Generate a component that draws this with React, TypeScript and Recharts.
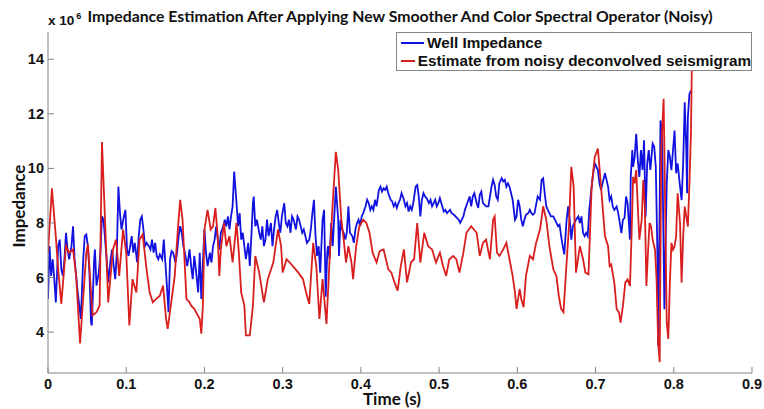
import React from 'react';
import { LineChart, Line, XAxis, YAxis } from 'recharts';

// Well impedance (x 10^6)
const wellTime = [
  0.000, 0.002, 0.004, 0.006, 0.008, 0.010, 0.013, 0.015, 0.017, 0.019, 0.021, 0.023, 0.025, 0.027, 0.030, 0.032,
  0.034, 0.036, 0.038, 0.040, 0.042, 0.045, 0.047, 0.049, 0.051, 0.053, 0.055, 0.056, 0.059, 0.060, 0.062, 0.065,
  0.067, 0.069, 0.071, 0.073, 0.075, 0.077, 0.080, 0.082, 0.084, 0.086, 0.088, 0.090, 0.092, 0.094, 0.097, 0.099,
  0.101, 0.103, 0.105, 0.107, 0.109, 0.111, 0.114, 0.116, 0.118, 0.120, 0.122, 0.124, 0.126, 0.129, 0.131, 0.133,
  0.135, 0.137, 0.139, 0.141, 0.143, 0.146, 0.148, 0.150, 0.152, 0.154, 0.156, 0.158, 0.160, 0.163, 0.165, 0.167,
  0.169, 0.171, 0.173, 0.175, 0.178, 0.181, 0.183, 0.185, 0.187, 0.189, 0.192, 0.194, 0.196, 0.198, 0.200, 0.202,
  0.204, 0.207, 0.209, 0.211, 0.213, 0.215, 0.217, 0.219, 0.221, 0.224, 0.226, 0.228, 0.230, 0.232, 0.234, 0.236,
  0.238, 0.241, 0.243, 0.245, 0.247, 0.249, 0.251, 0.253, 0.256, 0.258, 0.260, 0.262, 0.263, 0.265, 0.267, 0.270,
  0.272, 0.274, 0.276, 0.278, 0.280, 0.282, 0.285, 0.287, 0.289, 0.291, 0.293, 0.295, 0.297, 0.299, 0.302, 0.304,
  0.306, 0.308, 0.310, 0.312, 0.314, 0.317, 0.319, 0.321, 0.323, 0.325, 0.327, 0.329, 0.331, 0.334, 0.336, 0.338,
  0.340, 0.342, 0.344, 0.346, 0.348, 0.351, 0.353, 0.355, 0.357, 0.358, 0.360, 0.362, 0.364, 0.366, 0.368, 0.371,
  0.372, 0.374, 0.376, 0.378, 0.380, 0.382, 0.384, 0.386, 0.389, 0.391, 0.393, 0.395, 0.397, 0.399, 0.401, 0.403,
  0.406, 0.408, 0.410, 0.412, 0.414, 0.416, 0.418, 0.420, 0.423, 0.425, 0.427, 0.429, 0.431, 0.433, 0.435, 0.438,
  0.440, 0.442, 0.444, 0.446, 0.448, 0.450, 0.452, 0.455, 0.457, 0.459, 0.461, 0.463, 0.465, 0.467, 0.470, 0.472,
  0.474, 0.476, 0.478, 0.480, 0.482, 0.484, 0.487, 0.489, 0.491, 0.493, 0.495, 0.497, 0.499, 0.501, 0.504, 0.506,
  0.508, 0.510, 0.512, 0.514, 0.516, 0.519, 0.521, 0.523, 0.525, 0.527, 0.529, 0.531, 0.533, 0.536, 0.539, 0.541,
  0.543, 0.545, 0.548, 0.550, 0.552, 0.554, 0.556, 0.558, 0.560, 0.563, 0.565, 0.567, 0.569, 0.571, 0.573, 0.575,
  0.577, 0.580, 0.582, 0.584, 0.586, 0.588, 0.590, 0.592, 0.594, 0.597, 0.599, 0.601, 0.603, 0.605, 0.607, 0.609,
  0.611, 0.614, 0.616, 0.618, 0.620, 0.622, 0.624, 0.626, 0.629, 0.631, 0.633, 0.635, 0.637, 0.639, 0.641, 0.643,
  0.646, 0.648, 0.650, 0.652, 0.654, 0.656, 0.658, 0.660, 0.663, 0.665, 0.667, 0.669, 0.671, 0.673, 0.675, 0.678,
  0.680, 0.682, 0.684, 0.686, 0.688, 0.690, 0.692, 0.695, 0.697, 0.699, 0.701, 0.703, 0.705, 0.707, 0.710, 0.712,
  0.714, 0.716, 0.718, 0.720, 0.722, 0.724, 0.727, 0.729, 0.731, 0.733, 0.735, 0.737, 0.739, 0.741, 0.744, 0.745,
  0.747, 0.748, 0.750, 0.752, 0.754, 0.756, 0.758, 0.760, 0.762, 0.764, 0.766, 0.768, 0.770, 0.773, 0.775, 0.777,
  0.779, 0.780, 0.781, 0.783, 0.785, 0.787, 0.788, 0.791, 0.793, 0.795, 0.797, 0.799, 0.801, 0.803, 0.805, 0.808,
  0.810, 0.812, 0.814, 0.816, 0.817, 0.818, 0.820, 0.822,
];
const wellImpedance = [
  5.21, 7.15, 6.06, 6.67, 5.94, 5.09, 7.15, 7.39, 6.30, 6.06, 6.67, 7.64, 7.03, 6.67, 7.15, 7.88,
  6.67, 6.06, 5.45, 4.97, 4.48, 6.67, 7.52, 7.58, 7.15, 6.18, 4.36, 4.24, 6.67, 7.03, 5.70, 6.18,
  6.91, 8.24, 8.12, 7.39, 6.67, 5.82, 6.67, 7.03, 6.42, 5.94, 6.91, 9.33, 8.36, 7.76, 8.24, 8.48,
  7.03, 6.79, 7.15, 7.52, 6.91, 7.27, 6.55, 7.52, 8.12, 8.24, 7.76, 7.15, 7.27, 7.15, 7.03, 7.39,
  6.91, 7.27, 6.79, 6.67, 6.85, 6.67, 7.39, 6.55, 5.70, 4.73, 6.67, 6.97, 6.91, 6.55, 6.91, 7.52,
  7.88, 7.64, 7.15, 6.91, 6.42, 7.03, 6.42, 5.94, 6.79, 6.30, 5.45, 6.91, 5.21, 6.55, 7.76, 6.91,
  6.42, 6.91, 6.55, 7.15, 7.39, 7.88, 7.39, 7.03, 7.64, 7.88, 8.12, 7.88, 8.24, 7.76, 8.24, 8.61,
  9.88, 8.73, 7.88, 8.36, 7.39, 7.64, 7.15, 6.67, 7.27, 6.42, 7.52, 8.73, 8.97, 7.88, 8.12, 7.64,
  7.39, 7.88, 7.15, 7.39, 8.12, 7.52, 8.00, 7.15, 7.76, 8.24, 8.48, 8.00, 7.64, 8.24, 8.73, 8.00,
  7.88, 8.12, 7.64, 8.24, 8.12, 7.76, 8.24, 8.12, 7.88, 7.64, 7.76, 7.52, 7.27, 7.39, 7.76, 8.36,
  8.85, 7.52, 6.79, 7.15, 6.18, 8.12, 8.48, 5.30, 6.91, 7.15, 6.67, 8.00, 7.15, 8.24, 9.33, 8.12,
  6.79, 8.12, 7.76, 7.64, 7.39, 7.64, 8.61, 7.64, 7.52, 7.27, 7.76, 8.00, 8.12, 7.88, 8.24, 8.36,
  8.61, 8.85, 8.73, 8.48, 8.61, 8.48, 8.85, 8.61, 9.21, 9.33, 9.15, 9.27, 9.21, 9.33, 9.09, 8.85,
  8.79, 8.61, 8.73, 8.55, 8.73, 8.85, 9.09, 8.85, 8.61, 8.73, 8.42, 8.61, 8.48, 8.73, 9.33, 9.39,
  8.97, 8.24, 8.85, 9.09, 8.97, 8.91, 8.73, 8.85, 8.61, 8.73, 8.85, 8.61, 8.73, 8.91, 8.61, 8.42,
  8.48, 8.36, 8.42, 8.48, 8.36, 8.30, 8.24, 8.18, 8.12, 8.00, 8.12, 8.24, 8.48, 8.73, 8.97, 8.61,
  8.97, 9.09, 8.73, 8.55, 9.03, 9.15, 8.73, 8.67, 8.61, 8.61, 8.97, 9.33, 9.58, 9.39, 8.97, 8.85,
  9.45, 9.64, 9.52, 9.58, 9.33, 9.45, 9.33, 9.09, 8.85, 8.12, 8.24, 8.85, 8.61, 8.12, 7.88, 8.12,
  8.30, 8.36, 8.48, 8.36, 8.30, 8.36, 8.67, 8.97, 8.85, 9.58, 9.64, 9.09, 8.61, 8.48, 8.36, 8.24,
  8.24, 8.12, 8.00, 7.88, 7.94, 7.52, 7.15, 6.85, 8.12, 8.61, 8.12, 7.39, 7.88, 8.00, 8.12, 8.24,
  8.00, 8.24, 7.64, 7.52, 7.64, 7.52, 8.48, 9.33, 9.82, 10.18, 10.06, 9.94, 9.45, 9.21, 9.58, 9.82,
  9.58, 9.33, 8.84, 8.97, 8.60, 8.48, 8.60, 8.36, 8.00, 7.63, 8.12, 8.18, 8.97, 8.72, 7.39, 9.69,
  10.67, 10.06, 10.42, 11.27, 10.30, 9.69, 10.67, 9.94, 11.03, 8.24, 10.18, 10.67, 9.94, 10.91, 10.79, 10.06,
  7.02, 3.50, 5.81, 11.76, 11.39, 7.02, 4.84, 9.45, 10.67, 10.42, 9.94, 10.67, 11.39, 9.82, 10.18, 9.33,
  8.84, 10.18, 12.42, 10.67, 9.09, 11.88, 12.73, 12.85,
];

// Estimate from noisy deconvolved seismigram (x 10^6)
const estTime = [
  0.000, 0.005, 0.010, 0.013, 0.017, 0.023, 0.027, 0.032, 0.036, 0.041, 0.049, 0.051, 0.057, 0.062, 0.066, 0.069,
  0.077, 0.083, 0.087, 0.091, 0.096, 0.100, 0.104, 0.108, 0.113, 0.117, 0.121, 0.126, 0.130, 0.134, 0.138, 0.143,
  0.147, 0.151, 0.153, 0.157, 0.162, 0.166, 0.169, 0.172, 0.177, 0.181, 0.183, 0.187, 0.194, 0.196, 0.198, 0.200,
  0.204, 0.208, 0.211, 0.214, 0.217, 0.219, 0.221, 0.225, 0.228, 0.232, 0.236, 0.241, 0.244, 0.247, 0.251, 0.253,
  0.258, 0.262, 0.265, 0.270, 0.276, 0.281, 0.288, 0.294, 0.298, 0.300, 0.305, 0.309, 0.313, 0.320, 0.326, 0.330,
  0.334, 0.339, 0.343, 0.347, 0.351, 0.356, 0.360, 0.364, 0.368, 0.371, 0.375, 0.378, 0.381, 0.384, 0.388, 0.390,
  0.394, 0.398, 0.403, 0.407, 0.411, 0.415, 0.420, 0.424, 0.429, 0.435, 0.439, 0.443, 0.447, 0.451, 0.455, 0.459,
  0.464, 0.468, 0.472, 0.476, 0.481, 0.486, 0.491, 0.496, 0.501, 0.505, 0.509, 0.513, 0.518, 0.522, 0.526, 0.531,
  0.535, 0.541, 0.548, 0.552, 0.556, 0.560, 0.565, 0.569, 0.571, 0.574, 0.577, 0.582, 0.586, 0.590, 0.594, 0.597,
  0.599, 0.603, 0.605, 0.608, 0.611, 0.616, 0.620, 0.624, 0.629, 0.633, 0.637, 0.641, 0.646, 0.650, 0.653, 0.656,
  0.659, 0.663, 0.666, 0.669, 0.672, 0.675, 0.680, 0.684, 0.687, 0.691, 0.695, 0.699, 0.703, 0.707, 0.712, 0.716,
  0.718, 0.720, 0.724, 0.727, 0.730, 0.732, 0.735, 0.738, 0.741, 0.744, 0.746, 0.748, 0.750, 0.752, 0.754, 0.756,
  0.759, 0.761, 0.763, 0.765, 0.767, 0.769, 0.771, 0.773, 0.776, 0.778, 0.780, 0.782, 0.784, 0.787, 0.788, 0.791,
  0.793, 0.795, 0.797, 0.799, 0.801, 0.803, 0.805, 0.808, 0.810, 0.812, 0.814, 0.816, 0.818, 0.820, 0.822, 0.823,
];
const estImpedance = [
  6.90, 9.27, 7.50, 6.30, 5.03, 7.15, 6.90, 7.03, 6.06, 3.58, 6.91, 7.21, 4.61, 4.73, 4.97, 10.97,
  5.09, 7.03, 7.39, 6.06, 7.76, 6.91, 4.24, 5.94, 5.45, 7.39, 7.58, 6.30, 5.45, 5.09, 5.21, 5.33,
  5.70, 4.48, 4.12, 4.97, 6.06, 7.76, 8.85, 8.12, 5.21, 5.09, 4.97, 4.85, 4.48, 3.94, 4.97, 7.76,
  8.48, 7.76, 7.88, 8.55, 7.52, 6.06, 7.03, 8.00, 7.15, 7.52, 6.55, 8.00, 6.91, 5.45, 4.97, 3.88,
  3.88, 4.97, 6.79, 6.18, 5.09, 5.94, 6.55, 7.76, 7.15, 6.18, 6.67, 6.55, 6.42, 6.18, 5.94, 5.45,
  5.03, 7.27, 6.42, 4.48, 5.94, 4.30, 6.67, 8.73, 10.61, 9.94, 8.12, 7.39, 6.55, 7.15, 6.55, 5.94,
  7.15, 7.88, 8.12, 8.00, 7.64, 6.91, 6.55, 6.97, 7.03, 6.30, 6.18, 5.82, 5.52, 6.42, 7.03, 5.82,
  6.55, 6.67, 8.00, 6.55, 7.64, 7.15, 7.03, 6.55, 6.91, 6.42, 6.06, 6.67, 6.79, 6.67, 6.18, 6.91,
  7.64, 7.88, 7.64, 6.79, 7.27, 7.39, 6.67, 8.12, 8.24, 6.91, 6.79, 7.03, 7.27, 6.67, 6.06, 5.45,
  4.85, 5.58, 5.21, 4.91, 6.06, 6.79, 6.67, 7.27, 7.76, 8.61, 8.12, 7.15, 6.30, 6.06, 5.33, 4.85,
  4.73, 6.55, 7.88, 10.06, 9.33, 6.18, 7.15, 6.67, 6.18, 6.12, 9.33, 10.42, 10.73, 9.33, 7.52, 7.15,
  6.42, 6.48, 5.81, 4.84, 4.72, 4.35, 4.96, 5.81, 5.93, 5.69, 7.51, 9.69, 9.45, 9.94, 8.60, 7.39,
  8.12, 9.57, 8.60, 5.69, 6.90, 8.00, 7.87, 7.39, 7.02, 5.93, 3.63, 2.90, 10.67, 12.55, 10.67, 4.35,
  3.75, 5.81, 7.27, 7.02, 7.15, 7.51, 9.09, 8.00, 5.81, 7.51, 8.60, 8.24, 7.87, 9.45, 11.30, 13.58,
];

const timeTicks = [0, 0.1, 0.2, 0.3, 0.4, 0.5, 0.6, 0.7, 0.8, 0.9];
const impedanceTicks = [4, 6, 8, 10, 12, 14];

const COLORS = {
  well: '#1212e0',
  estimate: '#d91e1e',
  axis: '#858585',
  text: '#111111',
};

const TICK_FONT = '"Liberation Sans", Arial, sans-serif';
const LABEL_FONT = 'Lato, "Open Sans", sans-serif';

const wellRows = wellTime.map((time, i) => ({ time, value: wellImpedance[i] }));
const estRows = estTime.map((time, i) => ({ time, value: estImpedance[i] }));

const BottomTick = ({ x, y, payload }: any) => (
  <g>
    <line x1={x} x2={x} y1={y} y2={y - 6} stroke={COLORS.axis} />
    <text x={x} y={y + 16} textAnchor="middle" fill={COLORS.text} fontFamily={TICK_FONT} fontWeight="bold" fontSize={14.5}>
      {payload.value}
    </text>
  </g>
);

const TopTick = ({ x, y }: any) => <line x1={x} x2={x} y1={y} y2={y + 6} stroke={COLORS.axis} />;

const LeftTick = ({ x, y, payload }: any) => (
  <g>
    <line x1={x} x2={x + 6} y1={y} y2={y} stroke={COLORS.axis} />
    <text x={x - 4} y={y + 5} textAnchor="end" fill={COLORS.text} fontFamily={TICK_FONT} fontWeight="bold" fontSize={14.5}>
      {payload.value}
    </text>
  </g>
);

const RightTick = ({ x, y }: any) => <line x1={x} x2={x - 6} y1={y} y2={y} stroke={COLORS.axis} />;

const LegendBox = () => (
  <div
    style={{
      position: 'absolute',
      left: 396,
      top: 32,
      width: 356,
      height: 39,
      background: '#fff',
      border: `1px solid ${COLORS.axis}`,
      fontFamily: TICK_FONT,
      fontWeight: 'bold',
      fontSize: 15.3,
      color: COLORS.text,
      lineHeight: '18px',
      paddingTop: 1,
      boxSizing: 'border-box',
    }}
  >
    {[
      { name: 'Well Impedance', color: COLORS.well },
      { name: 'Estimate from noisy deconvolved seismigram', color: COLORS.estimate },
    ].map((item) => (
      <div key={item.name} style={{ display: 'flex', alignItems: 'center', whiteSpace: 'nowrap' }}>
        <span style={{ display: 'inline-block', width: 23, height: 2, background: item.color, marginLeft: 4, marginRight: 3 }} />
        {item.name}
      </div>
    ))}
  </div>
);

export default function App() {
  return (
    <div style={{ position: 'absolute', left: 0, top: 0, width: 764, height: 409, background: '#fff' }}>
      <LineChart width={764} height={409} margin={{ top: 32, right: 12, bottom: 0, left: 0 }}>
        <XAxis
          xAxisId="bottom"
          dataKey="time"
          type="number"
          domain={[0, 0.9]}
          ticks={timeTicks}
          allowDataOverflow
          height={36}
          tickSize={0}
          tickMargin={0}
          tickLine={false}
          axisLine={{ stroke: COLORS.axis }}
          tick={<BottomTick />}
        />
        <XAxis
          xAxisId="top"
          orientation="top"
          dataKey="time"
          type="number"
          domain={[0, 0.9]}
          ticks={timeTicks}
          allowDataOverflow
          height={0}
          tickSize={0}
          tickMargin={0}
          tickLine={false}
          axisLine={{ stroke: COLORS.axis }}
          tick={<TopTick />}
        />
        <YAxis
          yAxisId="left"
          type="number"
          domain={[2.5, 15]}
          ticks={impedanceTicks}
          allowDataOverflow
          width={48}
          tickSize={0}
          tickMargin={0}
          tickLine={false}
          axisLine={{ stroke: COLORS.axis }}
          tick={<LeftTick />}
        />
        <YAxis
          yAxisId="right"
          orientation="right"
          type="number"
          domain={[2.5, 15]}
          ticks={impedanceTicks}
          allowDataOverflow
          width={0}
          tickSize={0}
          tickMargin={0}
          tickLine={false}
          axisLine={{ stroke: COLORS.axis }}
          tick={<RightTick />}
        />
        <Line
          data={wellRows}
          xAxisId="bottom"
          yAxisId="left"
          dataKey="value"
          stroke={COLORS.well}
          strokeWidth={1.8}
          dot={false}
          isAnimationActive={false}
        />
        <Line
          data={estRows}
          xAxisId="bottom"
          yAxisId="left"
          dataKey="value"
          stroke={COLORS.estimate}
          strokeWidth={1.8}
          dot={false}
          isAnimationActive={false}
        />
      </LineChart>

      <div
        style={{
          position: 'absolute',
          left: 0,
          width: 800,
          top: 6,
          textAlign: 'center',
          fontFamily: LABEL_FONT,
          fontWeight: 'bold',
          fontSize: 15.8,
          color: COLORS.text,
          whiteSpace: 'nowrap',
        }}
      >
        Impedance Estimation After Applying New Smoother And Color Spectral Operator (Noisy)
      </div>
      <div
        style={{
          position: 'absolute',
          left: 48,
          top: 13,
          fontFamily: TICK_FONT,
          fontWeight: 'bold',
          fontSize: 13.5,
          lineHeight: '16px',
          color: COLORS.text,
          whiteSpace: 'nowrap',
        }}
      >
        x 10
        <span style={{ position: 'relative', top: -6, fontSize: 9, marginLeft: 2 }}>6</span>
      </div>
      <div
        style={{
          position: 'absolute',
          left: 342,
          width: 100,
          top: 388,
          textAlign: 'center',
          fontFamily: LABEL_FONT,
          fontWeight: 'bold',
          fontSize: 17,
          color: COLORS.text,
        }}
      >
        Time (s)
      </div>
      <div
        style={{
          position: 'absolute',
          left: 18,
          top: 206,
          transform: 'translate(-50%, -50%) rotate(-90deg)',
          fontFamily: LABEL_FONT,
          fontWeight: 'bold',
          fontSize: 17,
          color: COLORS.text,
          whiteSpace: 'nowrap',
        }}
      >
        Impedance
      </div>
      <LegendBox />
    </div>
  );
}
